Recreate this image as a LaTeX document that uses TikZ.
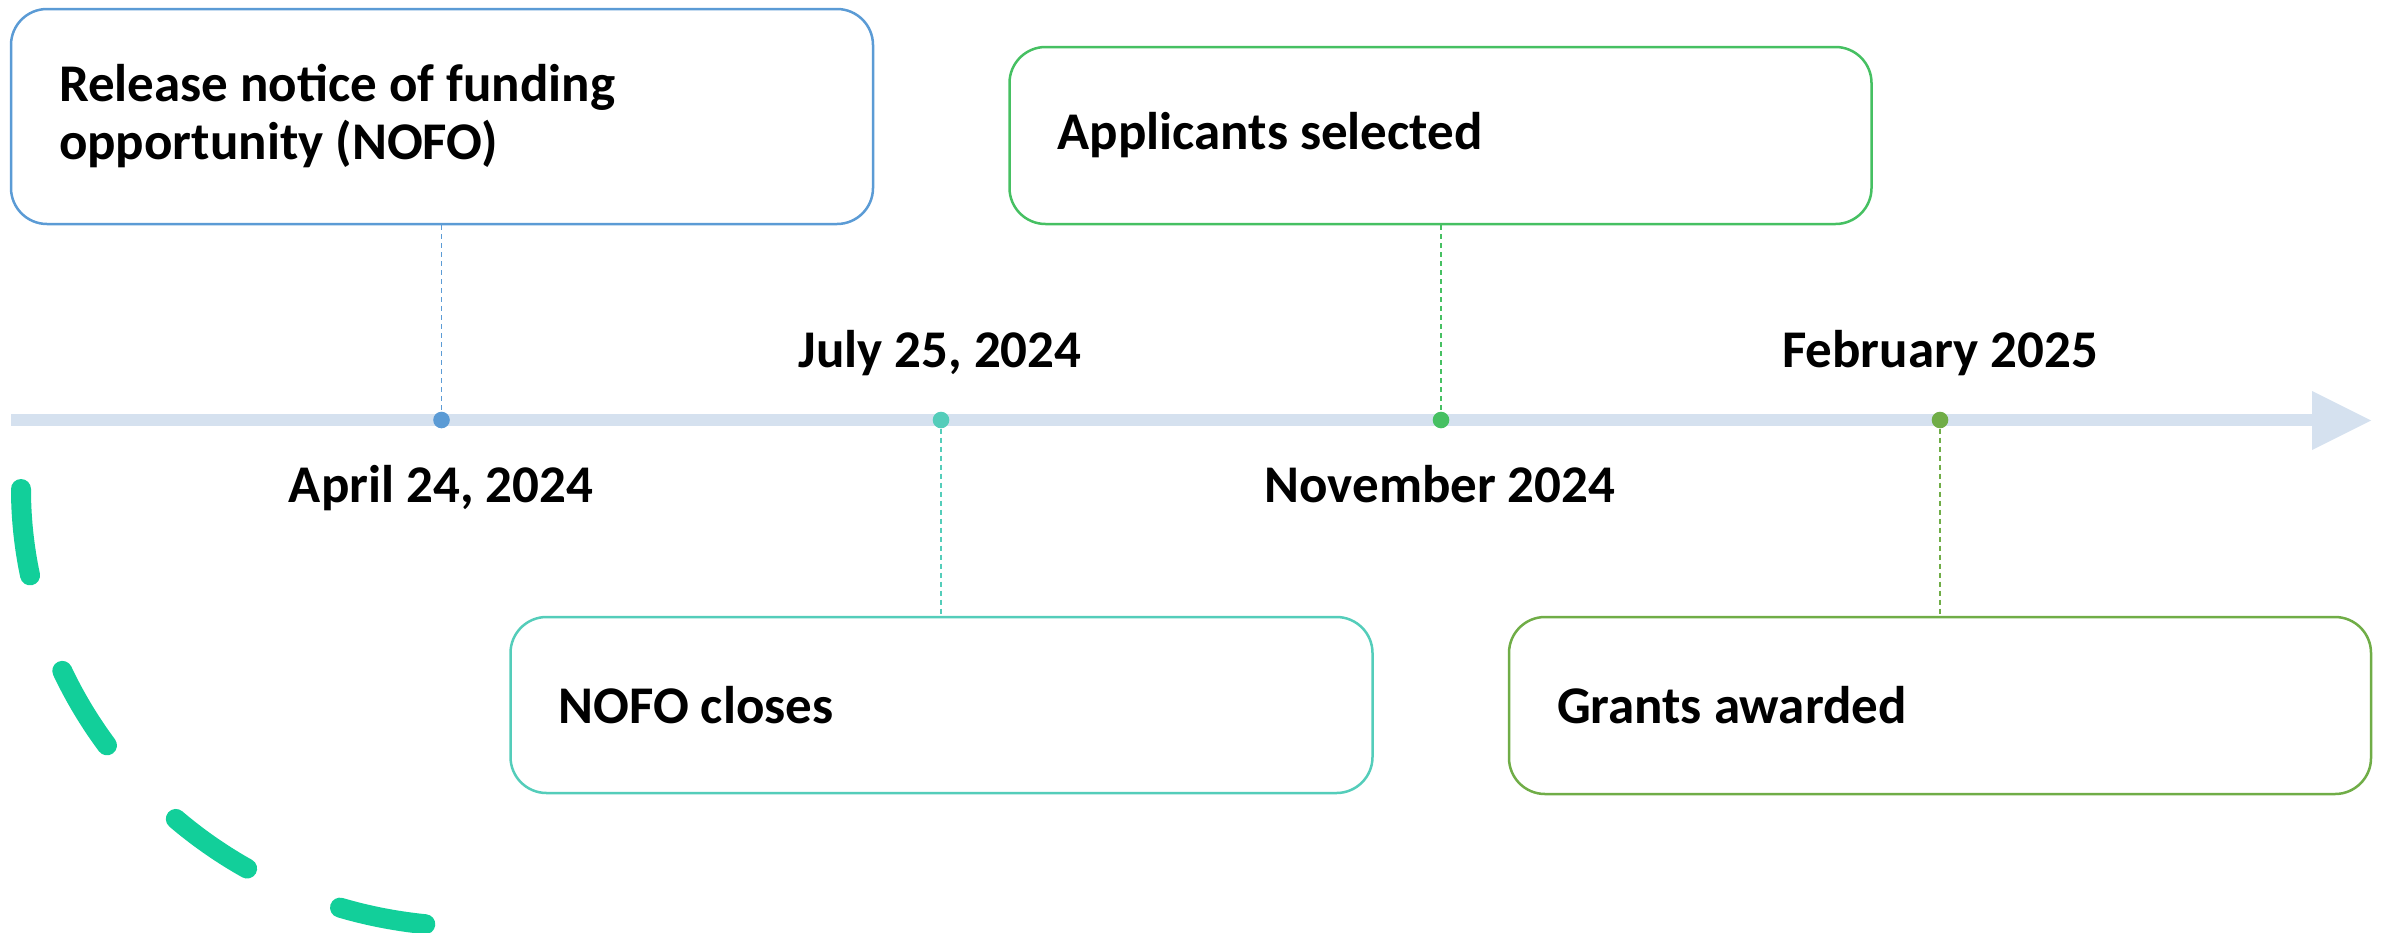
\documentclass[tikz,border=0pt]{standalone}
\usepackage{fontspec}
\setmainfont{Carlito}
\begin{document}
\begin{tikzpicture}[x=1pt,y=-1pt,
  every node/.style={font=\fontsize{53}{58}\selectfont\bfseries},
  evbox/.style={draw, line width=2.5pt, rounded corners=36pt, fill=white,
    align=left, inner xsep=48pt, inner ysep=0pt, text width=766pt,
    minimum width=862pt},
  evdot/.style={circle, inner sep=0pt, minimum size=16.6pt},
  link/.style={line width=1.6pt, dash pattern=on 5pt off 4pt},
  datelbl/.style={anchor=base, inner sep=0pt}
]
\definecolor{cblue}{RGB}{91,155,213}
\definecolor{cteal}{RGB}{84,205,186}
\definecolor{cgreen}{RGB}{70,192,98}
\definecolor{colive}{RGB}{112,173,71}
\definecolor{caxis}{RGB}{213,225,239}
\definecolor{carc}{RGB}{18,207,154}
\useasboundingbox (0,0) rectangle (2392,932);
\clip (0,0) rectangle (2392,932);

% decorative dashed arc
\draw[carc, line width=20pt, line cap=round, dash pattern=on 87pt off 101pt]
  (21,489) .. controls (21,705) and (190,905) .. (434,925);

% axis
\coordinate (axstart) at (11,420);
\coordinate (axend) at (2313,420);
\draw[caxis, line width=12pt] (axstart) -- (axend);
\fill[caxis] (2312,391) -- (2371,420.5) -- (2312,450) -- cycle;

% boxes
\node[evbox, draw=cblue, minimum height=215pt] (b1) at (442,116.5)
  {\spaceskip=0pt\xspaceskip=0pt Release notice of funding\\opportunity (NOFO)};
\node[evbox, draw=cgreen, minimum height=177pt] (b2) at (1440.5,135.5)
  {\spaceskip=0pt\xspaceskip=0pt Applicants selected};
\node[evbox, draw=cteal, minimum height=176pt] (b3) at (941.5,705)
  {\spaceskip=0pt\xspaceskip=0pt NOFO closes};
\node[evbox, draw=colive, minimum height=177pt] (b4) at (1940,705.5)
  {\spaceskip=0pt\xspaceskip=0pt Grants awarded};

% dots
\node[evdot, fill=cblue]  (d1) at (441.5,420) {};
\node[evdot, fill=cteal]  (d2) at (941,420) {};
\node[evdot, fill=cgreen] (d3) at (1441,420) {};
\node[evdot, fill=colive] (d4) at (1940,420) {};

% dashed connectors
\draw[link, cblue]  (b1.south -| d1) -- (d1.north);
\draw[link, cteal]  (d2.south) -- (b3.north -| d2);
\draw[link, cgreen] (b2.south -| d3) -- (d3.north);
\draw[link, colive] (d4.south) -- (b4.north -| d4);

% date labels
\node[datelbl] (l1) at (441,502) {April 24, 2024};
\node[datelbl] (l2) at (940,367) {July 25, 2024};
\node[datelbl] (l3) at (1440,502) {November 2024};
\node[datelbl] (l4) at (1940,367) {February 2025};
\end{tikzpicture}
\end{document}
